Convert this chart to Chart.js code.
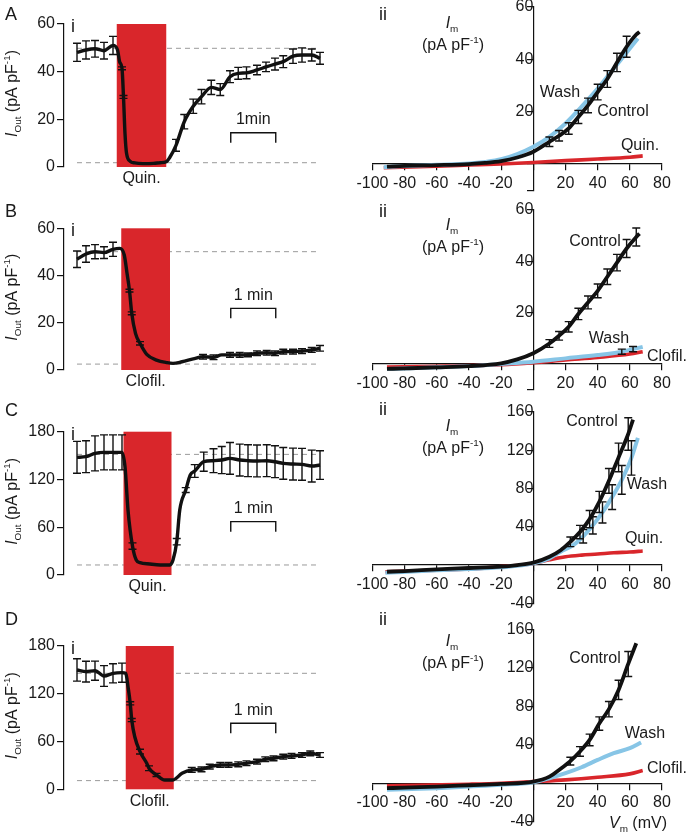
<!DOCTYPE html>
<html>
<head>
<meta charset="utf-8">
<script src="https://cdn.jsdelivr.net/npm/chart.js@4.4.0/dist/chart.umd.min.js"></script>
<style>
body{margin:0;background:#fff}
#fig{position:relative;width:690px;height:834px}
canvas{position:absolute}
</style>
</head>
<body>
<div id="fig"></div>
<script>
const FONT = "'Liberation Sans', Arial, Helvetica, sans-serif";
const RED = '#d9262b';
const BLUE = '#87c5e6';
const BLACK = '#111';

// ---- time courses: t in s, I_out in pA/pF, e = s.e.m. (0 = no bar)
const tA = [0,12,24,36,48,54,57,60,62,64,66,71,77,88,102,111,119,124,132,143,155,166,179,191,204,215,226,240,252,264,275,288,300,313,324];
const iA = [48.1,49.1,49.6,48.8,51.0,49.1,44,41.4,29.4,14,5.9,2.4,1.7,1.4,1.5,1.8,2.2,4.2,9.1,19,25.5,29.5,33.4,32.5,37.9,39.3,39.5,40.7,42,43.2,44.2,46.5,47,47,45.6];
const eA = [3.8,3.8,3.5,3.5,3.8,0,0,0.6,0.6,0,0,0,0,0,0,0,0,0,2.5,3,3,3,3,2.5,2.5,2.5,2.5,2,2,2.5,2.5,3,3,2.5,2.5];

const tB = [0,12,24,36,48,57,63,67,70,73,78,84,93,106,120,128,140,155,168,182,193,204,217,228,240,253,264,275,288,300,313,324];
const iB = [46.9,49.1,50.1,49.7,51.1,51.5,48.7,40.3,33.6,24,15.5,11.3,6.6,4.2,3.1,2.8,3.5,4.7,5.6,5.4,6.4,6.4,6.4,6.4,7.1,7.3,7.1,7.8,7.8,8,8.5,9.2];
const eB = [3.5,3.5,3,2.5,3,0,0,0,0.6,0.6,0,0.7,0,0,0,0,0,0,1,1,0,1,1,0.8,1,1,1,1,1,1,1,1.2];

const tC = [0,12,24,36,48,60,64,68,74,79,84,97,111,124,128,133,137,145,151,157,169,182,193,204,217,228,240,253,264,275,288,300,313,324];
const iC = [147.8,148.6,152.8,154,154,154,136,81.6,36.4,18.8,15.5,13.8,12.6,12.6,18.8,41.9,81.6,106.7,125.6,130.6,142.3,143.6,144.4,146.5,144.4,143.6,143.2,143.6,142.3,140.2,139.4,139,136.9,138.1];
const eC = [20,20,22,22,22,22,0,0,4,0,0,0,0,0,0,4,0,3,0,8,12,15,17,20,20,20,20,20,20,20,20,20,20,18];

const tD = [0,12,24,36,48,60,65,68,71,73,77,84,93,96,106,117,128,140,153,166,177,191,202,215,226,240,251,262,275,286,300,311,324];
const iD = [149.9,147.8,149,142.3,145.7,146.5,145.7,128.9,108,87,66,47.3,32.7,26.4,18,11.7,11.7,20.1,24.3,25.1,28.5,30.6,30.6,31.4,32.7,34.7,37.7,38.9,41,41.9,43.1,45.2,43.1];
const eD = [14,13,12,13,12,12,0,0,2,2,0,3,0,3,2,0,0,0,3,3,3,3,3,3,3,3,3,3,3,3,3,3,3];

// ---- I-V relations: V in mV, I_m in pA/pF
const vCtlA = [-91,-80,-60,-40,-30,-20,-10,0,10,16,22,28,34,40,46,52,58,64,66];
const ctlA = [-1.0,-0.7,-0.4,0,0.4,1.1,2.5,4.7,8.5,10.8,13.6,18,22.4,27.5,32.5,38.8,44.8,49.5,50.5];
const ctlErrA = [0,0,0,0,0,0,0,0,1.8,2,2.2,2.5,2.8,3,3.2,3.5,4,0,0];
const vWashA = [-93,-80,-60,-40,-30,-20,-10,0,10,20,30,40,50,60,65];
const washA = [-1.2,-0.8,-0.3,0.2,0.8,1.8,3.8,6.6,10.4,15.5,21.9,28.8,36.5,44.1,48];
const vDrugA = [-93,-60,-40,-20,0,20,40,60,68];
const drugA = [-1.4,-0.8,-0.4,0,0.6,1.3,1.9,2.6,3.1];

const vCtlB = [-91,-80,-60,-40,-20,-10,0,10,16,22,28,34,40,46,52,58,64,66];
const ctlB = [-1.9,-1.7,-1.3,-0.8,0.3,1.8,4.2,8,11,14.5,19.5,24,28.5,34,39.5,45,49.5,50.8];
const ctlErrB = [0,0,0,0,0,0,0,1.5,1.7,2,2.2,2.5,2.7,3,3.2,3.5,3.5,0];
const vWashB = [-91,-60,-40,-20,0,20,40,55,62,68];
const washB = [-1.9,-1.3,-0.8,0,0.9,2.2,3.5,4.8,5.8,6.7];
const washErrB = [0,0,0,0,0,0,0,1,1,0];
const vDrugB = [-91,-60,-40,-20,0,20,40,60,68];
const drugB = [-1.2,-0.9,-0.6,-0.3,0.5,1.6,2.6,3.9,4.8];

const vCtlC = [-91,-80,-60,-40,-20,-10,0,10,17,23,29,35,41,47,53,59,62];
const ctlC = [-7,-6.3,-4.5,-3.1,-1.7,0,2.5,8.7,15.5,24.3,34.5,48,66,88,112.5,137,152];
const ctlErrC = [0,0,0,0,0,0,0,0,0,5,7,9,11,13,15,17,0];
const vWashC = [-92,-60,-40,-20,0,10,17,25,31,37,43,49,55,61,65];
const washC = [-8,-5.5,-4.2,-2.4,1.7,7,14,21,30,41.5,55,71,89,112,133];
const washErrC = [0,0,0,0,0,0,0,0,7,9,11,13,15,18,0];
const vDrugC = [-92,-60,-40,-20,0,10,20,30,40,50,60,68];
const drugC = [-7,-5.5,-4.2,-1.7,1.7,5.5,8.7,10.4,11.5,12.9,13.6,14.6];

const vCtlD = [-91,-80,-60,-40,-20,0,10,17,23,29,35,41,47,53,59,64];
const ctlD = [-5.2,-4.5,-3.5,-2.1,-0.7,1.7,6.9,15,23,33,45,62,77,97,124,145.5];
const ctlErrD = [0,0,0,0,0,0,0,0,4,5,6,7,8,10,13,0];
const vWashD = [-91,-60,-40,-20,0,10,20,30,40,50,60,67];
const washD = [-6.9,-5.2,-3.5,-1.7,1,5.2,10.4,16.6,24.2,31.2,36.4,42.3];
const vDrugD = [-91,-40,-20,0,20,40,60,68];
const drugD = [-2.8,-1,0,1.7,3.5,6.2,9.7,13.2];

const xTicksIV = [-100,-80,-60,-40,-20,0,20,40,60,80];
const yTicksSmall = [-10,0,20,40,60];
const yTicksBig = [-40,0,40,80,120,160];

function addCanvas(left, top, w, h) {
    const c = document.createElement('canvas');
    c.width = w; c.height = h;
    c.style.cssText = 'left:' + left + 'px;top:' + top + 'px;width:' + w + 'px;height:' + h + 'px';
    document.getElementById('fig').appendChild(c);
    return c;
}

function pts(xs, ys) {
    return xs.map((x, i) => ({x: x, y: ys[i]}));
}

// text with italic / sub / sup pieces, centred on x, baseline y
function rich(ctx, parts, x, y, size) {
    const f = k => (k === 'it' ? 'italic ' : '') + ((k === 'sub' || k === 'sup') ? size * 0.62 : size) + 'px ' + FONT;
    let w = 0;
    parts.forEach(p => { ctx.font = f(p[1]); w += ctx.measureText(p[0]).width; });
    let cx = x - w / 2;
    ctx.textAlign = 'left';
    ctx.textBaseline = 'alphabetic';
    parts.forEach(p => {
        ctx.font = f(p[1]);
        const dy = p[1] === 'sub' ? size * 0.25 : (p[1] === 'sup' ? -size * 0.42 : 0);
        ctx.fillText(p[0], cx, y + dy);
        cx += ctx.measureText(p[0]).width;
    });
}

const errBars = {
    id: 'errBars',
    afterDatasetsDraw(chart) {
        const ctx = chart.ctx, ys = chart.scales.y;
        chart.data.datasets.forEach((ds, i) => {
            if (!ds.errs) return;
            const els = chart.getDatasetMeta(i).data;
            ctx.save();
            ctx.strokeStyle = BLACK;
            ctx.lineWidth = 1.4;
            ds.errs.forEach((e, j) => {
                if (!e) return;
                const x = els[j].x, v = ds.data[j].y;
                const y1 = ys.getPixelForValue(v + e), y2 = ys.getPixelForValue(v - e);
                ctx.beginPath();
                ctx.moveTo(x, y1); ctx.lineTo(x, y2);
                ctx.moveTo(x - 4, y1); ctx.lineTo(x + 4, y1);
                ctx.moveTo(x - 4, y2); ctx.lineTo(x + 4, y2);
                ctx.stroke();
            });
            ctx.restore();
        });
    }
};

function timeDeco(p) {
    return {
        id: 'timeDeco',
        beforeDatasetsDraw(chart) {
            const ctx = chart.ctx, x = chart.scales.x, y = chart.scales.y;
            const t0 = p.t[0], t1 = p.t[p.t.length - 1];
            ctx.save();
            ctx.strokeStyle = '#9a9a9a';
            ctx.lineWidth = 1;
            ctx.setLineDash([5, 4]);
            p.dashed.forEach(v => {
                ctx.beginPath();
                ctx.moveTo(x.getPixelForValue(t0), y.getPixelForValue(v));
                ctx.lineTo(x.getPixelForValue(t1), y.getPixelForValue(v));
                ctx.stroke();
            });
            ctx.setLineDash([]);
            ctx.fillStyle = RED;
            const bx1 = x.getPixelForValue(p.box[0]), bx2 = x.getPixelForValue(p.box[1]);
            const by1 = y.getPixelForValue(y.max), by2 = y.getPixelForValue(0);
            ctx.fillRect(bx1, by1, bx2 - bx1, by2 - by1);
            ctx.restore();
        },
        afterDraw(chart) {
            const ctx = chart.ctx, x = chart.scales.x, y = chart.scales.y, area = chart.chartArea;
            ctx.save();
            ctx.fillStyle = '#1a1a1a';
            // panel letters
            ctx.font = '18px ' + FONT;
            ctx.textAlign = 'left';
            ctx.textBaseline = 'alphabetic';
            ctx.fillText(p.letter, 5, p.letterY - p.top);
            ctx.fillText('i', area.left + 7, area.top + 8);
            // y title
            ctx.save();
            ctx.translate(17, (area.top + area.bottom) / 2 - 2);
            ctx.rotate(-Math.PI / 2);
            rich(ctx, [['I', 'it'], ['Out', 'sub'], [' (pA pF', ''], ['-1', 'sup'], [')', '']], 0, 0, 16);
            ctx.restore();
            // drug label
            const bx = (x.getPixelForValue(p.box[0]) + x.getPixelForValue(p.box[1])) / 2;
            ctx.font = '16px ' + FONT;
            ctx.textAlign = 'center';
            ctx.textBaseline = 'middle';
            ctx.fillText(p.drug, bx, area.bottom + 12);
            // 1 min scale bar
            const sx1 = x.getPixelForValue(205), sx2 = x.getPixelForValue(265), sy = y.getPixelForValue(p.bar);
            ctx.strokeStyle = BLACK;
            ctx.lineWidth = 1.4;
            ctx.beginPath();
            ctx.moveTo(sx1, sy + 10); ctx.lineTo(sx1, sy); ctx.lineTo(sx2, sy); ctx.lineTo(sx2, sy + 10);
            ctx.stroke();
            ctx.fillText(p.barLabel, (sx1 + sx2) / 2, sy - 13);
            ctx.restore();
        }
    };
}

function timePanel(p) {
    const cv = addCanvas(0, p.top, 345, p.h);
    new Chart(cv, {
        type: 'line',
        data: {
            datasets: [{
                data: pts(p.t, p.v),
                errs: p.e,
                borderColor: BLACK,
                borderWidth: 3.4,
                pointRadius: 0,
                tension: 0.4,
                cubicInterpolationMode: 'monotone'
            }]
        },
        options: {
            responsive: false,
            animation: false,
            layout: {padding: {left: 0, right: 15, top: p.areaTop - p.top, bottom: p.top + p.h - p.areaBottom}},
            plugins: {legend: {display: false}, tooltip: {enabled: false}},
            scales: {
                x: {type: 'linear', display: false, min: -17.33, max: 337.33},
                y: {
                    min: 0, max: p.ymax,
                    ticks: {stepSize: p.step, font: {size: 16, family: FONT}, color: '#1a1a1a', padding: 2},
                    grid: {drawOnChartArea: false, tickLength: 7, color: BLACK, lineWidth: 1.2},
                    border: {color: BLACK, width: 1.2},
                    afterFit: s => { s.width = 64; s.paddingTop = 0; s.paddingBottom = 0; }
                }
            }
        },
        plugins: [timeDeco(p), errBars]
    });
}

function ivDeco(p) {
    return {
        id: 'ivDeco',
        afterDraw(chart) {
            const ctx = chart.ctx, ox = 345, oy = p.top;
            ctx.save();
            ctx.fillStyle = '#1a1a1a';
            ctx.font = '18px ' + FONT;
            ctx.textAlign = 'left';
            ctx.textBaseline = 'alphabetic';
            ctx.fillText('ii', 379 - ox, p.iiY - oy);
            rich(ctx, [['I', 'it'], ['m', 'sub']], 452 - ox, p.unitY - 17 - oy, 16);
            rich(ctx, [['(pA pF', ''], ['-1', 'sup'], [')', '']], 453 - ox, p.unitY + 5 - oy, 16);
            p.labels.forEach(l => rich(ctx, [[l[0], '']], l[1] - ox, l[2] + 5.5 - oy, 16));
            if (p.vlabel) rich(ctx, [['V', 'it'], ['m', 'sub'], [' (mV)', '']], 638 - ox, 828 - oy, 16);
            ctx.restore();
        }
    };
}

function ivPanel(p) {
    const cv = addCanvas(345, p.top, 345, p.h);
    const line = (xs, ys, color, w) => ({data: pts(xs, ys), borderColor: color, borderWidth: w, pointRadius: 0, tension: 0.4, cubicInterpolationMode: 'monotone'});
    const ctl = line(p.vCtl, p.ctl, BLACK, 3.8);
    ctl.errs = p.ctlErr;
    const wash = line(p.vWash, p.wash, BLUE, 4);
    if (p.washErr) wash.errs = p.washErr;
    const drug = line(p.vDrug, p.drug, RED, 3.6);
    new Chart(cv, {
        type: 'line',
        data: {datasets: [ctl, wash, drug]},
        options: {
            responsive: false,
            animation: false,
            layout: {padding: {left: 27.5, right: 28, top: p.areaTop - p.top, bottom: p.top + p.h - p.areaBottom}},
            plugins: {legend: {display: false}, tooltip: {enabled: false}},
            scales: {
                x: {
                    type: 'linear', min: -100, max: 80, position: {y: 0},
                    afterBuildTicks: s => { s.ticks = xTicksIV.map(v => ({value: v})); },
                    ticks: {callback: v => (v === 0 ? '' : v), font: {size: 16, family: FONT}, color: '#1a1a1a', padding: 4, maxRotation: 0, autoSkip: false},
                    grid: {drawOnChartArea: false, tickLength: 6, color: BLACK, lineWidth: 1.2},
                    border: {color: BLACK, width: 1.2},
                    afterFit: s => { s.paddingLeft = 0; s.paddingRight = 0; }
                },
                y: {
                    type: 'linear', min: p.yTicks[0], max: p.yTicks[p.yTicks.length - 1], position: {x: 0},
                    afterBuildTicks: s => { s.ticks = p.yTicks.map(v => ({value: v})); },
                    ticks: {callback: v => (v === 0 || v === -10 ? '' : v), font: {size: 16, family: FONT}, color: '#1a1a1a', padding: 3, autoSkip: false},
                    grid: {drawOnChartArea: false, tickLength: 6, color: BLACK, lineWidth: 1.2},
                    border: {color: BLACK, width: 1.2},
                    afterFit: s => { s.paddingTop = 0; s.paddingBottom = 0; }
                }
            }
        },
        plugins: [ivDeco(p), errBars]
    });
}

timePanel({top: 0, h: 200, areaTop: 24, areaBottom: 167, ymax: 60, step: 20, t: tA, v: iA, e: eA,
    box: [53, 119], dashed: [49.8, 1.8], bar: 14.4, barLabel: '1min', drug: 'Quin.', letter: 'A', letterY: 20});
timePanel({top: 195, h: 210, areaTop: 228.3, areaBottom: 370, ymax: 60, step: 20, t: tB, v: iB, e: eB,
    box: [59, 124], dashed: [50.1, 2.5], bar: 26.1, barLabel: '1 min', drug: 'Clofil.', letter: 'B', letterY: 217});
timePanel({top: 395, h: 220, areaTop: 431.7, areaBottom: 575, ymax: 180, step: 60, t: tC, v: iC, e: eC,
    box: [62, 126], dashed: [151.5, 12.6], bar: 67, barLabel: '1 min', drug: 'Quin.', letter: 'C', letterY: 416});
timePanel({top: 605, h: 229, areaTop: 646, areaBottom: 789.3, ymax: 180, step: 60, t: tD, v: iD, e: eD,
    box: [65, 129], dashed: [145.7, 10.9], bar: 82.9, barLabel: '1 min', drug: 'Clofil.', letter: 'D', letterY: 625});

ivPanel({top: 0, h: 200, areaTop: 7, areaBottom: 190.2, yTicks: yTicksSmall, iiY: 20, unitY: 45,
    vCtl: vCtlA, ctl: ctlA, ctlErr: ctlErrA, vWash: vWashA, wash: washA, vDrug: vDrugA, drug: drugA,
    labels: [['Wash', 560, 91], ['Control', 623, 110], ['Quin.', 640, 144]]});
ivPanel({top: 195, h: 210, areaTop: 210, areaBottom: 389.7, yTicks: yTicksSmall, iiY: 217, unitY: 247,
    vCtl: vCtlB, ctl: ctlB, ctlErr: ctlErrB, vWash: vWashB, wash: washB, washErr: washErrB, vDrug: vDrugB, drug: drugB,
    labels: [['Control', 595, 240], ['Wash', 609, 337], ['Clofil.', 667, 355]]});
ivPanel({top: 395, h: 220, areaTop: 412, areaBottom: 603.3, yTicks: yTicksBig, iiY: 415, unitY: 448,
    vCtl: vCtlC, ctl: ctlC, ctlErr: ctlErrC, vWash: vWashC, wash: washC, washErr: washErrC, vDrug: vDrugC, drug: drugC,
    labels: [['Control', 592, 420], ['Wash', 647, 483], ['Quin.', 644, 537]]});
ivPanel({top: 605, h: 229, areaTop: 629.3, areaBottom: 821.7, yTicks: yTicksBig, iiY: 625, unitY: 663, vlabel: true,
    vCtl: vCtlD, ctl: ctlD, ctlErr: ctlErrD, vWash: vWashD, wash: washD, vDrug: vDrugD, drug: drugD,
    labels: [['Control', 595, 657], ['Wash', 645, 732], ['Clofil.', 667, 767]]});
</script>
</body>
</html>
